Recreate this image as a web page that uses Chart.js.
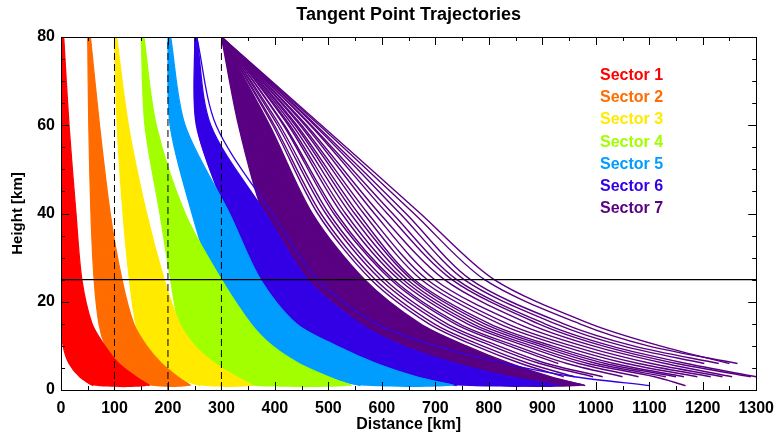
<!DOCTYPE html>
<html lang="en">
<head>
<meta charset="UTF-8">
<title>Tangent Point Trajectories</title>
<script src="https://cdn.jsdelivr.net/npm/chart.js"></script>
<style>
  body { margin: 0; background: #fff; }
  .wrap { position: relative; width: 783px; height: 434px; }
  .legend { position: absolute; left: 600px; top: 64px; font: bold 16px "Liberation Sans", Arial, sans-serif; line-height: 22.2px; white-space: nowrap; }
</style>
</head>
<body>
<div class="wrap">
  <canvas id="chart" width="783" height="434"></canvas>
  <div class="legend" id="legend"></div>
</div>
<script>
// heights [km] at which every trajectory is sampled
const levels = [80, 60, 40, 25, 15, 10, 6, 3, 1];

const sectorNames = ['Sector 1', 'Sector 2', 'Sector 3', 'Sector 4', 'Sector 5', 'Sector 6', 'Sector 7'];
const sectorColors = ['#ff0000', '#ff6c00', '#ffea00', '#a2ff00', '#009dff', '#3300e6', '#5a0082'];

// distance [km] of each trajectory at the heights above (null = ended)
const sector1 = [
  [0, 0, 0, 0, 1, 4, 15, 35, 60],
  [1, 3, 5, 8, 15, 24, 42, 68, 98],
  [2, 5, 10, 15, 25, 37, 58, 88, 118],
  [3, 8, 15, 22, 35, 50, 73, 104, 134],
  [3, 10, 19, 28, 43, 62, 87, 118, 146],
  [4, 13, 24, 34, 51, 72, 98, 130, 157],
  [5, 15, 28, 39, 58, 82, 108, 140, 165]
];
const sector2 = [
  [50, 52, 56, 62, 71, 83, 103, 133, 165],
  [51, 56, 62, 70, 82, 96, 118, 148, 180],
  [52, 59, 68, 79, 93, 109, 133, 163, 195],
  [52, 63, 74, 88, 104, 122, 148, 178, 208],
  [53, 66, 80, 97, 115, 135, 162, 192, 220],
  [54, 69, 86, 106, 126, 148, 175, 205, 232],
  [55, 72, 92, 114, 136, 160, 188, 218, 242]
];
const sector3 = [
  [100, 105, 116, 128, 140, 154, 178, 215, 260],
  [101, 109, 124, 139, 154, 170, 196, 235, 280],
  [101, 112, 131, 150, 168, 186, 215, 255, 300],
  [102, 116, 139, 161, 182, 202, 234, 274, 318],
  [102, 119, 146, 171, 195, 218, 252, 292, 335],
  [103, 123, 153, 182, 209, 234, 270, 310, 348],
  [104, 126, 160, 193, 222, 250, 288, 328, 358]
];
const sector4 = [
  [150, 157, 185, 205, 220, 237, 264, 305, 350],
  [151, 161, 193, 220, 242, 263, 294, 340, 385],
  [152, 164, 201, 236, 264, 289, 324, 373, 420],
  [152, 168, 209, 252, 287, 315, 355, 405, 455],
  [153, 171, 216, 268, 310, 342, 385, 437, 490],
  [154, 175, 224, 284, 333, 369, 415, 469, 520],
  [155, 178, 232, 300, 355, 395, 445, 500, 543]
];
const sector5 = [
  [200, 204, 245, 285, 325, 365, 425, 495, 560],
  [201, 209, 257, 300, 344, 390, 452, 523, 590],
  [202, 213, 269, 315, 363, 415, 479, 551, 620],
  [202, 218, 280, 330, 383, 440, 507, 580, 650],
  [203, 223, 292, 344, 402, 465, 534, 608, 680],
  [204, 227, 303, 359, 421, 490, 562, 637, 710],
  [205, 232, 315, 373, 440, 515, 590, 665, 735]
];
const sector6 = [
  [250, 253, 310, 360, 420, 480, 560, 650, 740],
  [251, 258, 325, 380, 448, 512, 596, 688, 778],
  [251, 264, 340, 401, 476, 544, 632, 726, 816],
  [252, 269, 354, 421, 504, 576, 668, 764, 854],
  [253, 275, 369, 442, 532, 608, 704, 802, 892],
  [254, 280, 383, 462, 560, 640, 740, 840, 930],
  [254, 290, 395, 480, 590, 700, 830, 960, 1100]
];
const sector7 = [
  [300, 332, 378, 440, 505, 560, 640, 720, 800],
  [300, 342, 393, 465, 535, 595, 675, 755, 830],
  [300, 352, 408, 490, 565, 630, 710, 790, 860],
  [300, 362, 424, 512, 595, 665, 745, 825, 890],
  [300, 371, 440, 532, 622, 700, 780, 860, 920],
  [300, 380, 455, 550, 648, 730, 810, 890, 950],
  [300, 390, 470, 568, 672, 758, 840, 915, 980],
  [300, 396, 480, 580, 688, 775, 860, 940, null],
  [300, 399, 486, 588, 698, 788, 875, 960, null],
  [300, 405, 495, 598, 712, 805, 895, 995, null],
  [300, 409, 501, 606, 722, 818, 908, 1013, null],
  [300, 416, 510, 617, 737, 838, 930, null, null],
  [300, 418, 515, 622, 745, 850, 946, 1050, null],
  [300, 425, 525, 632, 760, 868, 968, 1080, null],
  [300, 428, 532, 640, 770, 880, 985, 1110, 1168],
  [300, 433, 541, 648, 781, 894, 1002, 1131, null],
  [300, 438, 549, 656, 792, 906, 1018, 1150, null],
  [300, 441, 556, 661, 802, 918, 1034, 1165, null],
  [300, 447, 566, 674, 820, 937, 1057, 1190, null],
  [300, 450, 574, 685, 835, 955, 1080, 1215, null],
  [300, 456, 586, 699, 855, 975, 1104, 1237, null],
  [300, 459, 596, 717, 875, 995, 1130, 1255, null],
  [300, 466, 610, 731, 893, 1013, 1151, 1290, null],
  [300, 468, 620, 740, 905, 1028, 1170, 1300, null],
  [300, 474, 634, 754, 925, 1050, 1203, null, null],
  [300, 477, 645, 766, 940, 1070, 1230, null, null],
  [300, 483, 660, 792, 970, 1098, 1265, null, null],
  [300, 487, 672, 810, 990, 1120, 1250, null, null]
];
const sectors = [sector1, sector2, sector3, sector4, sector5, sector6, sector7];
// how many of the first trajectories form the solid band of each sector
const bandSize = [7, 7, 7, 7, 7, 6, 7];

const dashX = [100, 200, 300];
const refHeight = 25;
const xTicks = [0, 100, 200, 300, 400, 500, 600, 700, 800, 900, 1000, 1100, 1200, 1300];
const yTicks = [0, 20, 40, 60, 80];

const FONT = '"Liberation Sans", Arial, Helvetica, sans-serif';
Chart.defaults.font.family = FONT;

function toPoints(xs) {
  return xs.map((x, i) => x === null ? null : { x: x, y: levels[i] }).filter(p => p);
}

const datasets = [];

// reference lines (on top)
dashX.forEach(x => {
  datasets.push({ data: [{ x: x, y: yTicks[0] }, { x: x, y: yTicks[yTicks.length - 1] }],
    borderColor: '#000', borderWidth: 1, borderDash: [7, 4], pointRadius: 0, order: 0 });
});
datasets.push({ data: [{ x: xTicks[0], y: refHeight }, { x: xTicks[xTicks.length - 1], y: refHeight }],
  borderColor: '#000', borderWidth: 1.2, pointRadius: 0, order: 0 });

sectors.forEach((curves, s) => {
  const color = sectorColors[s];
  const k = bandSize[s];
  const band = toPoints(curves[0]).concat(toPoints(curves[k - 1]).reverse());
  datasets.push({ data: band, fill: 'shape', backgroundColor: color, borderWidth: 0,
    pointRadius: 0, tension: 0.3, order: s + 1.5 });
  curves.forEach(c => {
    datasets.push({ data: toPoints(c), borderColor: color, borderWidth: s === 6 ? 1.4 : 1.3,
      pointRadius: 0, tension: 0.3, fill: false, order: s + 1 });
  });
});

// box with inward ticks on all four sides
const framePlugin = {
  id: 'frame',
  afterDatasetsDraw(chart) {
    const { ctx, chartArea: a, scales: { x, y } } = chart;
    ctx.save();
    ctx.strokeStyle = '#000';
    ctx.lineWidth = 1;
    ctx.strokeRect(Math.round(a.left) + 0.5, Math.round(a.top) + 0.5,
      Math.round(a.right - a.left), Math.round(a.bottom - a.top));
    ctx.beginPath();
    for (let v = xTicks[0]; v <= xTicks[xTicks.length - 1]; v += 50) {
      const px = Math.round(x.getPixelForValue(v)) + 0.5;
      const len = v % 100 === 0 ? 8 : 4;
      ctx.moveTo(px, a.bottom); ctx.lineTo(px, a.bottom - len);
      ctx.moveTo(px, a.top); ctx.lineTo(px, a.top + len);
    }
    for (let v = yTicks[0]; v <= yTicks[yTicks.length - 1]; v += 5) {
      const py = Math.round(y.getPixelForValue(v)) + 0.5;
      const len = v % 20 === 0 ? 8 : 4;
      ctx.moveTo(a.left, py); ctx.lineTo(a.left + len, py);
      ctx.moveTo(a.right, py); ctx.lineTo(a.right - len, py);
    }
    ctx.stroke();
    ctx.restore();
  }
};

const tickFont = { size: 16, weight: 'bold', family: FONT };

new Chart(document.getElementById('chart'), {
  type: 'line',
  data: { datasets: datasets },
  options: {
    responsive: false,
    animation: false,
    events: [],
    layout: { padding: { top: 0, right: 22, bottom: 0, left: 0 } },
    plugins: {
      legend: { display: false },
      tooltip: { enabled: false },
      title: {
        display: true, fullSize: false, text: 'Tangent Point Trajectories', color: '#000',
        font: { size: 18, weight: 'bold', family: FONT }, padding: { top: 4, bottom: 11.4 }
      }
    },
    scales: {
      x: {
        type: 'linear', min: xTicks[0], max: xTicks[xTicks.length - 1],
        afterBuildTicks: s => { s.ticks = xTicks.map(v => ({ value: v })); },
        afterFit: s => { s.height = 44; },
        grid: { display: false, drawTicks: false },
        border: { display: false },
        ticks: { font: tickFont, color: '#000', padding: 9, maxRotation: 0, autoSkip: false,
          callback: v => String(v) },
        title: { display: true, text: 'Distance [km]', color: '#000', font: tickFont, padding: { top: 0, bottom: 0 } }
      },
      y: {
        type: 'linear', min: yTicks[0], max: yTicks[yTicks.length - 1],
        afterBuildTicks: s => { s.ticks = yTicks.map(v => ({ value: v })); },
        afterFit: s => { s.width = 61; },
        grid: { display: false, drawTicks: false },
        border: { display: false },
        ticks: { font: tickFont, color: '#000', padding: 6, callback: v => String(v) },
        title: { display: true, text: 'Height [km]', color: '#000', font: { size: 15, weight: 'bold', family: FONT }, padding: { top: 9, bottom: 0 } }
      }
    }
  },
  plugins: [framePlugin]
});

// legend as coloured text
const legend = document.getElementById('legend');
sectorNames.forEach((name, i) => {
  const row = document.createElement('div');
  row.textContent = name;
  row.style.color = sectorColors[i];
  legend.appendChild(row);
});
</script>
</body>
</html>
